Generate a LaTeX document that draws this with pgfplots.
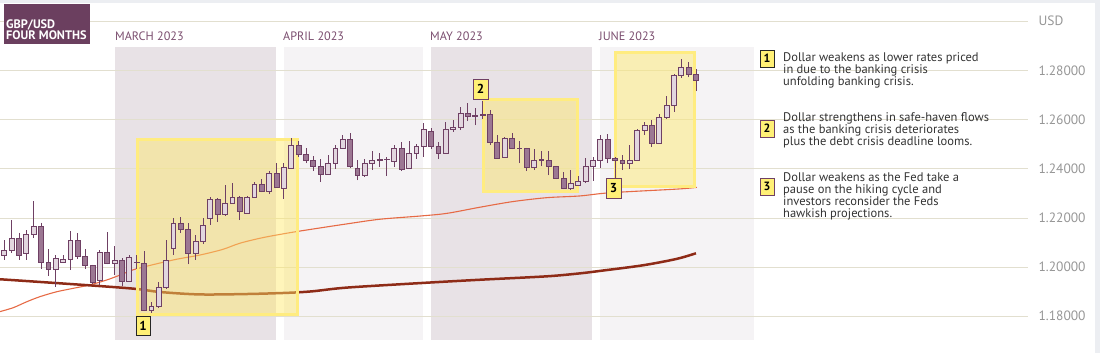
\documentclass[border=0pt]{standalone}
\usepackage{pgfplots}
\pgfplotsset{compat=1.18}
\usepackage{pgfplotstable}
\usepgfplotslibrary{statistics}
\usepackage{fontspec}
\setmainfont{PT Sans}
\definecolor{gridc}{RGB}{226,223,207}
\definecolor{shadeA}{RGB}{232,226,230}
\definecolor{shadeB}{RGB}{245,243,245}
\definecolor{cedge}{RGB}{111,64,100}
\definecolor{cup}{RGB}{226,214,223}
\definecolor{cdn}{RGB}{156,119,147}
\definecolor{maorange}{RGB}{230,106,69}
\definecolor{madark}{RGB}{142,43,23}
\definecolor{boxfill}{RGB}{255,232,102}
\definecolor{boxedge}{RGB}{255,236,128}
\definecolor{numfill}{RGB}{255,240,118}
\definecolor{titlebg}{RGB}{107,63,95}
\definecolor{monthc}{RGB}{123,78,111}
\definecolor{txt}{RGB}{51,51,51}
\definecolor{tickc}{RGB}{150,150,150}
\definecolor{framec}{RGB}{236,238,242}

\pgfplotstableread{
i O H L C
0 1.2045 1.2110 1.2029 1.2067
1 1.2067 1.2192 1.2058 1.2117
2 1.2117 1.2140 1.2029 1.2045
3 1.2056 1.2151 1.2029 1.2134
4 1.2134 1.2269 1.2117 1.2166
5 1.2166 1.2181 1.1991 1.2019
6 1.2019 1.2072 1.1965 1.1991
7 1.1991 1.2048 1.1917 1.2036
8 1.2019 1.2048 1.2015 1.2031
9 1.2031 1.2147 1.1987 1.2109
10 1.2109 1.2138 1.2031 1.2044
11 1.2044 1.2072 1.1991 1.2007
12 1.2007 1.2010 1.1929 1.1938
13 1.1946 1.2068 1.1925 1.2060
14 1.2060 1.2142 1.2011 1.2015
15 1.2015 1.2085 1.1966 1.2027
16 1.2027 1.2036 1.1923 1.1942
17 1.1942 1.2048 1.1940 1.2040
18 1.2020 1.2048 1.1991 1.2018
19 1.2015 1.2064 1.1820 1.1823
20 1.1823 1.1856 1.1811 1.1840
21 1.1840 1.1938 1.1831 1.1917
22 1.1917 1.2109 1.1909 1.2027
23 1.2076 1.2199 1.2048 1.2178
24 1.2178 1.2203 1.2138 1.2154
25 1.2154 1.2178 1.2011 1.2056
26 1.2056 1.2129 1.2027 1.2105
27 1.2105 1.2199 1.2093 1.2170
28 1.2199 1.2285 1.2170 1.2276
29 1.2276 1.2280 1.2183 1.2215
30 1.2215 1.2334 1.2207 1.2260
31 1.2260 1.2342 1.2258 1.2285
32 1.2285 1.2289 1.2191 1.2227
33 1.2219 1.2289 1.2217 1.2285
34 1.2285 1.2346 1.2280 1.2338
35 1.2338 1.2358 1.2305 1.2309
36 1.2309 1.2391 1.2297 1.2383
37 1.2383 1.2423 1.2323 1.2325
38 1.2321 1.2423 1.2276 1.2407
39 1.2403 1.2525 1.2399 1.2497
40 1.2497 1.2513 1.2448 1.2460
41 1.2460 1.2485 1.2423 1.2436
42 1.2436 1.2452 1.2391 1.2411
43 1.2411 1.2440 1.2346 1.2378
44 1.2378 1.2456 1.2376 1.2423
45 1.2423 1.2497 1.2399 1.2485
46 1.2485 1.2538 1.2480 1.2521
47 1.2521 1.2546 1.2403 1.2411
48 1.2403 1.2436 1.2354 1.2374
49 1.2374 1.2440 1.2366 1.2423
50 1.2423 1.2472 1.2395 1.2436
51 1.2436 1.2464 1.2407 1.2438
52 1.2438 1.2448 1.2370 1.2439
53 1.2431 1.2497 1.2407 1.2485
54 1.2485 1.2509 1.2391 1.2399
55 1.2403 1.2513 1.2401 1.2464
56 1.2464 1.2501 1.2440 1.2493
57 1.2493 1.2587 1.2448 1.2562
58 1.2554 1.2566 1.2480 1.2493
59 1.2493 1.2509 1.2440 1.2464
60 1.2464 1.2591 1.2460 1.2562
61 1.2562 1.2599 1.2550 1.2570
62 1.2570 1.2652 1.2558 1.2627
63 1.2627 1.2668 1.2595 1.2615
64 1.2617 1.2648 1.2578 1.2615
65 1.2621 1.2676 1.2603 1.2619
66 1.2623 1.2640 1.2497 1.2509
67 1.2509 1.2538 1.2442 1.2444
68 1.2448 1.2529 1.2444 1.2525
69 1.2525 1.2546 1.2480 1.2485
70 1.2485 1.2513 1.2423 1.2484
71 1.2485 1.2487 1.2391 1.2407
72 1.2407 1.2480 1.2395 1.2436
73 1.2437 1.2472 1.2411 1.2436
74 1.2436 1.2472 1.2374 1.2411
75 1.2411 1.2413 1.2358 1.2362
76 1.2362 1.2387 1.2317 1.2321
77 1.2321 1.2395 1.2313 1.2342
78 1.2334 1.2370 1.2332 1.2350
79 1.2350 1.2444 1.2342 1.2411
80 1.2411 1.2448 1.2350 1.2436
81 1.2436 1.2538 1.2403 1.2521
82 1.2521 1.2542 1.2423 1.2444
83 1.2444 1.2448 1.2362 1.2436
84 1.2436 1.2456 1.2395 1.2423
85 1.2423 1.2497 1.2399 1.2436
86 1.2436 1.2562 1.2431 1.2558
87 1.2558 1.2591 1.2538 1.2578
88 1.2578 1.2599 1.2489 1.2505
89 1.2505 1.2623 1.2501 1.2611
90 1.2611 1.2697 1.2603 1.2660
91 1.2660 1.2787 1.2632 1.2783
92 1.2783 1.2848 1.2770 1.2815
93 1.2815 1.2836 1.2774 1.2787
94 1.2787 1.2807 1.2717 1.2762
}\ohlc

\begin{document}
\begin{tikzpicture}
\path[use as bounding box] (0,0) rectangle (1100pt,353pt);
\begin{scope}[x=1pt,y=-1pt,shift={(0pt,353pt)}]
  \fill[framec] (0,0) rectangle (1100,3.5);
  \fill[framec] (1095,0) rectangle (1100,353);
  \fill[shadeA] (115,47.5) rectangle (276,340.5);
  \fill[shadeB] (284,47.5) rectangle (423,340.5);
  \fill[shadeA] (431,47.5) rectangle (592,340.5);
  \fill[shadeB] (600,47.5) rectangle (754,340.5);
\end{scope}
\begin{axis}[at={(0pt,0pt)}, anchor=south west, scale only axis,
  width=1028pt, height=353pt,
  xmin=-0.584, xmax=139.1, ymin=1.1649, ymax=1.30898,
  axis line style={draw=none}, xtick=\empty,
  ytick={1.18,1.20,1.22,1.24,1.26,1.28,1.30},
  yticklabels={1.18000,1.20000,1.22000,1.24000,1.26000,1.28000,\raisebox{3pt}{USD}},
  yticklabel pos=right, major tick length=0pt, tick style={draw=none},
  yticklabel style={font=\fontsize{13.5}{15}\selectfont, text=tickc, xshift=7pt},
  ymajorgrids, grid style={gridc, line width=1pt},
  clip=false,
  boxplot/whisker extend=0, boxplot/box extend=0.66, boxplot/draw direction=y,
]
\addplot[maorange, line width=1.1pt, smooth] coordinates {
(-0.58,1.1818) (1.22,1.1834) (3.04,1.1858) (4.85,1.1879) (7.12,1.1899) (9.38,1.1913)
(11.64,1.1927) (13.91,1.1947) (15.72,1.1967) (17.9,1.1992) (23.0,1.2029) (26.6,1.2049)
(29.7,1.2072) (32.0,1.2097) (35.15,1.2120) (38.8,1.2140) (41.94,1.2155) (46.56,1.2176)
(51.05,1.2195) (56.48,1.2208) (60.15,1.2219) (64.63,1.2244) (69.1,1.2267) (73.73,1.2283)
(78.2,1.2290) (82.3,1.2303) (91.4,1.2318) (94.1,1.2325)};
\addplot[madark, line width=2.5pt, smooth] coordinates {
(-0.58,1.1950) (11.64,1.1925) (17.76,1.1911) (21.15,1.1898) (26.6,1.1888) (33.4,1.1890)
(38.8,1.1895) (41.94,1.1901) (46.56,1.1916) (56.89,1.1935) (64.63,1.1948) (73.73,1.1962)
(78.2,1.1974) (80.94,1.1984) (86.78,1.2007) (91.35,1.2033) (93.98,1.2056)};
\fill[boxfill, fill opacity=0.45] (axis cs:17.9,1.2528) rectangle (axis cs:40.04,1.18);
\draw[boxedge, line width=3pt] (axis cs:18.1,1.2522) rectangle (axis cs:39.84,1.1806);
\fill[boxfill, fill opacity=0.45] (axis cs:64.9,1.2690) rectangle (axis cs:78.08,1.2302);
\draw[boxedge, line width=3pt] (axis cs:65.1,1.2684) rectangle (axis cs:77.88,1.2308);
\fill[boxfill, fill opacity=0.45] (axis cs:82.84,1.2882) rectangle (axis cs:93.98,1.2322);
\draw[boxedge, line width=3pt] (axis cs:83.04,1.2876) rectangle (axis cs:93.78,1.2328);
\pgfplotsinvokeforeach{0,...,94}{
  \pgfplotstablegetelem{#1}{O}\of\ohlc \let\vO\pgfplotsretval
  \pgfplotstablegetelem{#1}{H}\of\ohlc \let\vH\pgfplotsretval
  \pgfplotstablegetelem{#1}{L}\of\ohlc \let\vL\pgfplotsretval
  \pgfplotstablegetelem{#1}{C}\of\ohlc \let\vC\pgfplotsretval
  \ifdim\vC pt<\vO pt \def\cfill{cdn}\let\vlo\vC\let\vhi\vO
  \else \def\cfill{cup}\let\vlo\vO\let\vhi\vC\fi
  \edef\tmp{\noexpand\addplot[draw=cedge, fill=\cfill, line width=1pt,
    boxplot prepared={draw position=#1, lower whisker=\vL, lower quartile=\vlo,
    median=\vlo, upper quartile=\vhi, upper whisker=\vH}] coordinates {};}
  \tmp
}
\end{axis}
\begin{scope}[x=1pt,y=-1pt,shift={(0pt,353pt)}]
  \fill[titlebg] (4,4.3) rectangle (89.7,43.7);
  \node[anchor=base west, inner sep=0, text=white, font=\bfseries\fontsize{12.3}{12}\selectfont] at (6,28.5) {GBP/USD};
  \node[anchor=base west, inner sep=0, text=white, font=\bfseries\fontsize{12.3}{12}\selectfont] at (6,39.5) {FOUR MONTHS};
  \foreach \xx/\mm in {115/MARCH 2023, 283/APRIL 2023, 430/MAY 2023, 599/JUNE 2023}
    \node[anchor=base west, inner sep=0, text=monthc, font=\fontsize{12.2}{12}\selectfont] at (\xx,40.2) {\mm};
  \tikzset{numbox/.style={fill=numfill, line width=0.9pt}}
  \draw[numbox, draw=black!85] (136,316) rectangle (150,335);
  \node[font=\bfseries\fontsize{13}{13}\selectfont] at (143,325.5) {1};
  \draw[numbox, draw=cedge] (473,79) rectangle (488,99);
  \node[font=\bfseries\fontsize{13}{13}\selectfont] at (480.5,89) {2};
  \draw[numbox, draw=cedge] (606,178) rectangle (621,198);
  \node[font=\bfseries\fontsize{13}{13}\selectfont] at (613.5,188) {3};
  \draw[numbox, draw=black!85] (760,50) rectangle (774,67);
  \node[font=\bfseries\fontsize{12}{12}\selectfont] at (767,58.5) {1};
  \draw[numbox, draw=cedge] (760,120) rectangle (774,137);
  \node[font=\bfseries\fontsize{12}{12}\selectfont] at (767,128.5) {2};
  \draw[numbox, draw=cedge] (760,178) rectangle (774,195);
  \node[font=\bfseries\fontsize{12}{12}\selectfont] at (767,186.5) {3};
  \tikzset{ann/.style={anchor=base west, inner sep=0, text=txt, font=\fontsize{12.5}{12}\selectfont}}
  \node[ann] at (783,61.5) {Dollar weakens as lower rates priced};
  \node[ann] at (783,73.5) {in due to the banking crisis};
  \node[ann] at (783,85.5) {unfolding banking crisis.};
  \node[ann] at (783,121.5) {Dollar strengthens in safe-haven flows};
  \node[ann] at (783,133.5) {as the banking crisis deteriorates};
  \node[ann] at (783,145.5) {plus the debt crisis deadline looms.};
  \node[ann] at (783,181.5) {Dollar weakens as the Fed take a};
  \node[ann] at (783,193.5) {pause on the hiking cycle and};
  \node[ann] at (783,205.5) {investors reconsider the Feds};
  \node[ann] at (783,217.5) {hawkish projections.};
\end{scope}
\end{tikzpicture}
\end{document}
